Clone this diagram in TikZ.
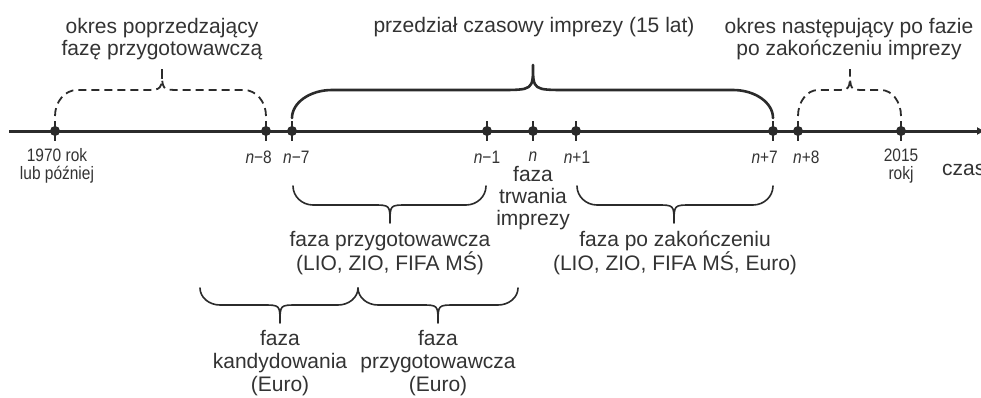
\documentclass[tikz,border=0pt]{standalone}
\usepackage{fontspec}
\setmainfont{Liberation Sans}
\newfontfamily\narrowfont[FakeStretch=0.86]{Liberation Sans}
\usetikzlibrary{arrows.meta}

\definecolor{ink}{HTML}{333333}
\definecolor{linec}{HTML}{2B2B2B}

% horizontal curly brace: style, left x, right x, tip x, end y, bar y, tip y, corner size, tip size
\newcommand\hbrace[9]{%
  \draw[#1] (#2,#5) .. controls (#2,{#5+0.55*(#6-#5)}) and ({#2+0.45*#8},#6) .. ({#2+#8},#6)
            -- ({#4-#9},#6) .. controls (#4,#6) .. (#4,#7)
            (#3,#5) .. controls (#3,{#5+0.55*(#6-#5)}) and ({#3-0.45*#8},#6) .. ({#3-#8},#6)
            -- ({#4+#9},#6) .. controls (#4,#6) .. (#4,#7);}

\tikzset{
  axisline/.style={line width=3pt, draw=linec, -{Triangle[length=7pt,width=7pt]}},
  yeardot/.style={circle, fill=linec, inner sep=0pt, minimum size=10pt},
  tickline/.style={line width=1.3pt, draw=linec},
  ticklbl/.style={font=\narrowfont\fontsize{18}{18}\selectfont, text=ink, align=center, inner sep=0pt},
  lbl/.style={font=\fontsize{21}{22}\selectfont, text=ink, align=center, inner sep=0pt},
  lblwide/.style={font=\fontsize{21}{23}\selectfont, text=ink, align=center, inner sep=0pt},
  bigbrace/.style={line width=2.6pt, draw=linec, line cap=round},
  smallbrace/.style={line width=1.6pt, draw=linec, line cap=round},
  dashbrace/.style={line width=1.8pt, draw=linec, dash pattern=on 8pt off 5pt},
}

\begin{document}
\begin{tikzpicture}[x=1pt, y=-1pt]
  \useasboundingbox[fill=white] (0,0) rectangle (981,397);

  % time axis
  \coordinate (axstart) at (9,131);
  \coordinate (axend) at (984,131);
  \draw[axisline] (axstart) -- (axend);

  % points on the axis
  \foreach \nm/\xx in {t1970/55, tm8/266, tm7/292, tm1/487, tn/533, tp1/576, tp7/773, tp8/798, t2015/901}{
    \node[yeardot] (\nm) at (\xx,131) {};
    \draw[tickline] (\xx,121) -- (\xx,141);
  }

  % labels under the points
  \node[ticklbl] (l1970) at (57,166) {1970 rok\\lub później};
  \node[ticklbl, anchor=east] (lm8) at (272,157) {\textit{n}−8};
  \node[ticklbl, anchor=west] (lm7) at (283,157) {\textit{n}−7};
  \node[ticklbl] (lm1) at (487,157) {\textit{n}−1};
  \node[ticklbl] (ln) at (533,157) {\textit{n}};
  \node[ticklbl] (lp1) at (577,157) {\textit{n}+1};
  \node[ticklbl, anchor=east] (lp7) at (778,157) {\textit{n}+7};
  \node[ticklbl, anchor=west] (lp8) at (793,157) {\textit{n}+8};
  \node[ticklbl] (l2015) at (901,166) {2015\\rokj};
  \node[lbl, anchor=base west] (czas) at (942,175) {czas};

  % braces above the axis
  \hbrace{bigbrace}{292}{773}{533}{118}{90}{65}{40}{34}
  \hbrace{dashbrace}{55}{266}{162}{116}{90}{69}{22}{18}
  \hbrace{dashbrace}{798}{901}{850}{116}{90}{69}{20}{15}

  \node[lbl] (before) at (162,39) {okres poprzedzający\\fazę przygotowawczą};
  \node[lbl] (span) at (534,27) {przedział czasowy imprezy (15 lat)};
  \node[lbl] (after) at (849,39) {okres następujący po fazie\\po zakończeniu imprezy};

  % event itself
  \node[lbl] (event) at (533,198) {faza\\trwania\\imprezy};

  % braces below the axis
  \hbrace{smallbrace}{293}{486}{390}{186}{205}{223}{20}{17}
  \hbrace{smallbrace}{577}{773}{674}{186}{205}{223}{20}{17}
  \hbrace{smallbrace}{200}{358}{280}{288}{305}{323}{20}{17}
  \hbrace{smallbrace}{358}{518}{438}{288}{305}{323}{20}{17}

  \node[lblwide] (prep) at (390,253) {faza przygotowawcza\\(LIO, ZIO, FIFA MŚ)};
  \node[lblwide] (post) at (675,253) {faza po zakończeniu\\(LIO, ZIO, FIFA MŚ, Euro)};
  \node[lblwide] (cand) at (280,363) {faza\\kandydowania\\(Euro)};
  \node[lblwide] (prepeuro) at (438,363) {faza\\przygotowawcza\\(Euro)};
\end{tikzpicture}
\end{document}
